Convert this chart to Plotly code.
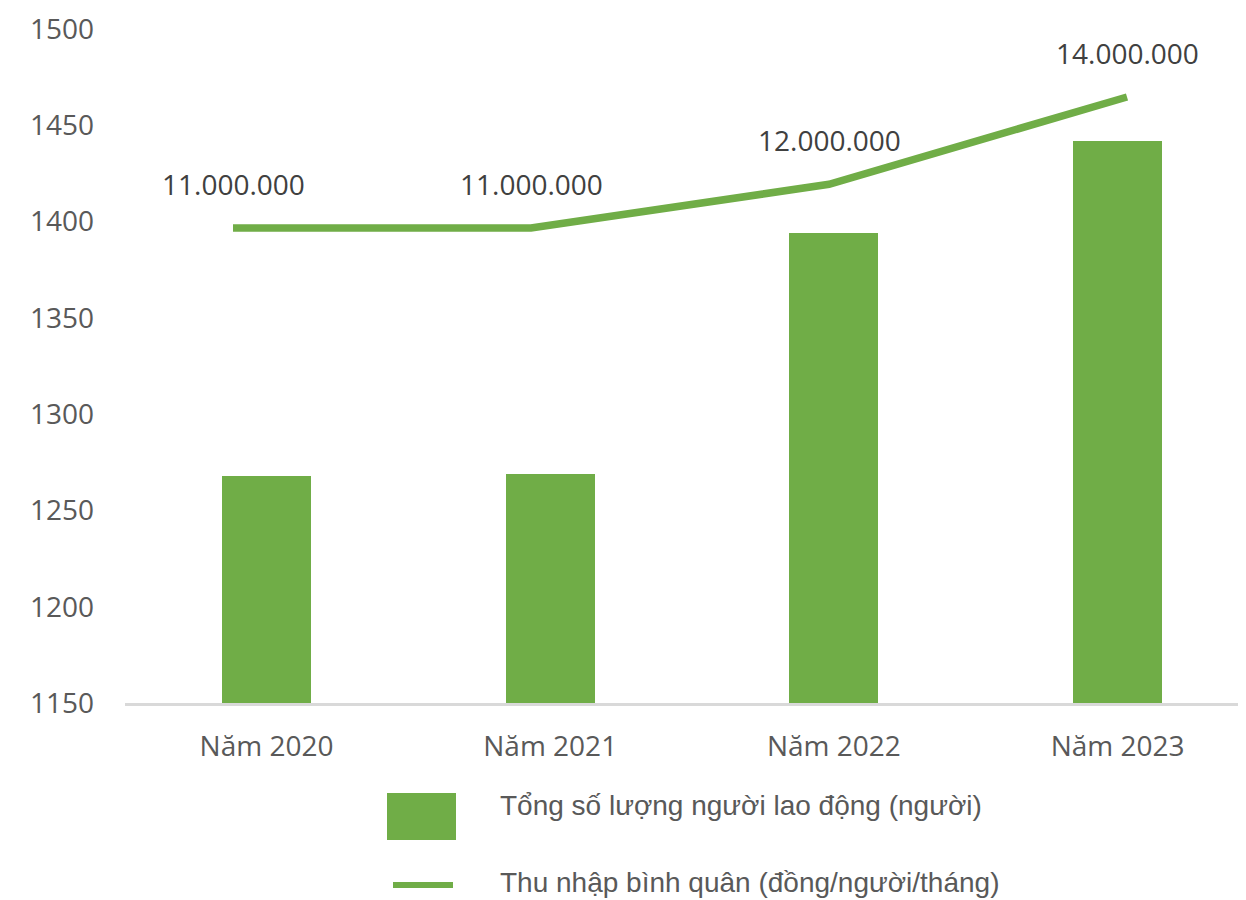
import plotly.graph_objects as go

# ---- data ----
categories = ["Năm 2020", "Năm 2021", "Năm 2022", "Năm 2023"]
workers = [1268, 1269, 1394, 1442]                       # Tổng số lượng người lao động (người)
income = [11000000, 11000000, 12000000, 14000000]        # Thu nhập bình quân (đồng/người/tháng)
income_labels = ["11.000.000", "11.000.000", "12.000.000", "14.000.000"]
y_ticks = [1150, 1200, 1250, 1300, 1350, 1400, 1450, 1500]
series_names = ["Tổng số lượng người lao động (người)",
                "Thu nhập bình quân (đồng/người/tháng)"]

GREEN = "#70AD47"
OFF = 8                      # page body margin
PAGE_W, PAGE_H = 1246, 900
W, H = PAGE_W - OFF, PAGE_H - OFF
# plot area in page pixels: x 125..1246, y 29..703
L, R, T, B = 125 - OFF, 0, 29 - OFF, PAGE_H - 703
PW, PH = W - L - R, H - T - B


def px_x(p):
    return (p - OFF - L) / PW


def px_y(p):
    return (H - B - (p - OFF)) / PH


fig = go.Figure()
fig.add_trace(go.Bar(x=categories, y=workers, name=series_names[0],
                     marker=dict(color=GREEN, line=dict(width=0)),
                     width=0.314, xaxis="x", yaxis="y", showlegend=False))
fig.add_trace(go.Scatter(x=categories, y=income, name=series_names[1],
                         mode="lines", line=dict(color=GREEN, width=7.5),
                         xaxis="x2", yaxis="y2", showlegend=False))

for c, v, t in zip(categories, income, income_labels):
    fig.add_annotation(x=c, y=v, xref="x2", yref="y2", text=t, showarrow=False,
                       yshift=44, font=dict(family="Open Sans", size=28, color="#404040"))

# legend (custom, bottom)
fig.add_shape(type="rect", xref="paper", yref="paper",
              x0=px_x(387), x1=px_x(456), y0=px_y(840), y1=px_y(793),
              fillcolor=GREEN, line=dict(width=0))
fig.add_shape(type="line", xref="paper", yref="paper",
              x0=px_x(393), x1=px_x(453), y0=px_y(885), y1=px_y(885),
              line=dict(color=GREEN, width=6))
for name, yc in zip(series_names, [806, 882]):
    fig.add_annotation(x=px_x(498), y=px_y(yc), xref="paper", yref="paper",
                       xanchor="left", yanchor="middle", text=name, showarrow=False,
                       font=dict(family="Liberation Sans", size=28, color="#595959"))

fig.update_layout(
    width=W, height=H,
    margin=dict(l=L, r=R, t=T, b=B, pad=0),
    paper_bgcolor="white", plot_bgcolor="white",
    bargap=0,
    xaxis=dict(range=[-0.4988, 3.4526], showgrid=False, showline=True,
               linecolor="#D9D9D9", linewidth=2.5, ticks="", zeroline=False,
               ticklabelstandoff=17,
               tickfont=dict(family="Open Sans", size=28, color="#595959")),
    xaxis2=dict(range=[-0.3624, 3.3993], overlaying="x", visible=False),
    yaxis=dict(range=[1150, 1500], tickvals=y_ticks, showgrid=False, zeroline=False,
               showline=False, ticks="", ticklabelstandoff=30,
               tickfont=dict(family="Open Sans", size=28, color="#595959")),
    yaxis2=dict(range=[122000, 15557000], overlaying="y", visible=False),
)

fig.write_html("out.html")
